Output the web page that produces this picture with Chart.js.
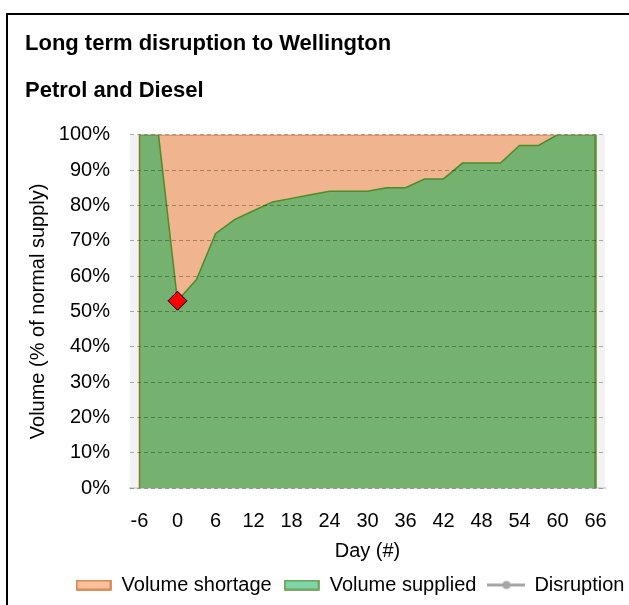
<!DOCTYPE html>
<html>
<head>
<meta charset="utf-8">
<script src="https://cdn.jsdelivr.net/npm/chart.js@4/dist/chart.umd.min.js"></script>
<style>
  html, body { margin: 0; padding: 0; background: #fff; overflow: hidden; }
  #wrap { position: relative; width: 629px; height: 605px; overflow: hidden; }
  #frame { position: absolute; left: 6px; top: 13px; width: 800px; height: 800px; border: 2px solid #000; pointer-events: none; }
  canvas { position: absolute; left: 0; top: 0; }
</style>
</head>
<body>
<div id="wrap">
  <canvas id="chart" width="700" height="605"></canvas>
  <div id="frame"></div>
</div>
<script>
const days = [-6, -3, 0, 3, 6, 9, 12, 15, 18, 21, 24, 27, 30, 33, 36, 39, 42, 45, 48, 51, 54, 57, 60, 63, 66];
const volumeSupplied = [100, 100, 53, 59, 72, 76, 78.5, 81, 82, 83, 84, 84, 84, 85, 85, 87.5, 87.5, 92, 92, 92, 97, 97, 100, 100, 100];
const volumeShortage = [0, 0, 47, 41, 28, 24, 21.5, 19, 18, 17, 16, 16, 16, 15, 15, 12.5, 12.5, 8, 8, 8, 3, 3, 0, 0, 0];
const disruptionDays = [0];
const disruptionValues = [53];
const xTicks = [-6, 0, 6, 12, 18, 24, 30, 36, 42, 48, 54, 60, 66];
const yTicks = [0, 10, 20, 30, 40, 50, 60, 70, 80, 90, 100];

const FONT = "'Liberation Sans', Arial, sans-serif";

function pts(xs, ys) {
    return xs.map((x, i) => ({ x: x, y: ys[i] }));
}

// legend swatches
function boxSwatch(fill, stroke) {
    const c = document.createElement('canvas');
    c.width = 36; c.height = 11;
    const g = c.getContext('2d');
    g.fillStyle = fill;
    g.fillRect(1, 1, 34, 9);
    g.strokeStyle = stroke;
    g.lineWidth = 1.5;
    g.strokeRect(1, 1, 34, 9);
    return c;
}
function lineSwatch(color) {
    const c = document.createElement('canvas');
    c.width = 38; c.height = 11;
    const g = c.getContext('2d');
    g.strokeStyle = color;
    g.lineWidth = 3;
    g.beginPath(); g.moveTo(0, 5.5); g.lineTo(38, 5.5); g.stroke();
    g.fillStyle = color;
    g.beginPath(); g.arc(19, 5.5, 4, 0, Math.PI * 2); g.fill();
    return c;
}
const swatches = {
    'Volume shortage': boxSwatch('#f8c09b', '#d0702f'),
    'Volume supplied': boxSwatch('#7ed6a6', '#5b8f3a'),
    'Disruption': lineSwatch('#a6a6a6')
};

const plotBg = {
    id: 'plotBg',
    beforeDraw(chart) {
        const a = chart.chartArea, ctx = chart.ctx;
        ctx.save();
        ctx.fillStyle = '#f2f2f2';
        ctx.fillRect(a.left, a.top, a.right - a.left, a.bottom - a.top);
        ctx.restore();
    }
};

// vertical edges of the area series
const areaEdges = {
    id: 'areaEdges',
    beforeDatasetDraw(chart, args) {
        if (args.index !== 2) return;
        const x = chart.scales.x, y = chart.scales.y, ctx = chart.ctx;
        const x0 = x.getPixelForValue(days[0]);
        const x1 = x.getPixelForValue(days[days.length - 1]);
        ctx.save();
        ctx.strokeStyle = '#8a7a2a';
        ctx.lineWidth = 1.5;
        ctx.beginPath(); ctx.moveTo(x0, y.getPixelForValue(0)); ctx.lineTo(x0, y.getPixelForValue(100)); ctx.stroke();
        ctx.strokeStyle = '#5b8f36';
        ctx.lineWidth = 2.5;
        ctx.beginPath(); ctx.moveTo(x1, y.getPixelForValue(0)); ctx.lineTo(x1, y.getPixelForValue(100)); ctx.stroke();
        ctx.restore();
    }
};

new Chart(document.getElementById('chart'), {
    type: 'line',
    data: {
        datasets: [
            {
                label: 'Volume supplied',
                data: pts(days, volumeSupplied),
                backgroundColor: '#75b16f',
                borderColor: '#4f8a2b',
                borderWidth: 1.5,
                fill: 'origin',
                pointRadius: 0,
                tension: 0,
                stack: 'area',
                order: 1
            },
            {
                label: 'Volume shortage',
                data: pts(days, volumeShortage),
                backgroundColor: '#f0b48e',
                borderColor: '#c9773f',
                borderWidth: 1.5,
                fill: '-1',
                pointRadius: 0,
                tension: 0,
                stack: 'area',
                order: 2
            },
            {
                label: 'Disruption',
                data: pts(disruptionDays, disruptionValues),
                showLine: false,
                pointStyle: 'rectRot',
                pointRadius: 9.5,
                pointBackgroundColor: '#ff0000',
                pointBorderColor: '#000000',
                pointBorderWidth: 1,
                stack: 'marker',
                order: 0
            }
        ]
    },
    options: {
        responsive: false,
        animation: false,
        events: [],
        layout: { padding: { left: 25, right: 25, top: 0, bottom: 0 } },
        scales: {
            x: {
                type: 'linear',
                min: -7.5,
                max: 67.5,
                afterBuildTicks: (s) => { s.ticks = xTicks.map(v => ({ value: v })); },
                afterFit: (s) => { s.height = 75; },
                grid: { display: false, drawTicks: false },
                border: { display: true, color: '#d9d9d9', width: 2 },
                ticks: { color: '#000', font: { family: FONT, size: 20 }, padding: 21, maxRotation: 0, autoSkip: false },
                title: { display: true, text: 'Day (#)', color: '#000', font: { family: FONT, size: 20 }, padding: { top: 0, bottom: 0 } }
            },
            y: {
                stacked: true,
                min: 0,
                max: 100,
                afterBuildTicks: (s) => { s.ticks = yTicks.map(v => ({ value: v })); },
                afterFit: (s) => { s.width = 105; },
                grid: { display: true, drawTicks: false, color: 'rgba(0,0,0,0.3)', lineWidth: 1, z: 1 },
                border: { display: false, dash: [4, 3] },
                ticks: { color: '#000', font: { family: FONT, size: 20 }, padding: 20, callback: v => v + '%' },
                title: { display: true, text: 'Volume (% of normal supply)', color: '#000', font: { family: FONT, size: 20 }, padding: { top: 1, bottom: 0 } }
            },
            yPad: {
                position: 'right',
                display: true,
                afterFit: (s) => { s.width = 70; },
                grid: { display: false },
                border: { display: false },
                ticks: { display: false }
            }
        },
        plugins: {
            title: {
                display: true,
                text: 'Long term disruption to Wellington',
                align: 'start',
                color: '#000',
                font: { family: FONT, size: 22, weight: 'bold' },
                padding: { top: 31, bottom: 0 }
            },
            subtitle: {
                display: true,
                text: 'Petrol and Diesel',
                align: 'start',
                color: '#000',
                font: { family: FONT, size: 22, weight: 'bold' },
                padding: { top: 20, bottom: 31 }
            },
            legend: {
                position: 'bottom',
                labels: {
                    color: '#000',
                    font: { family: FONT, size: 20 },
                    usePointStyle: true,
                    pointStyleWidth: 36,
                    boxHeight: 11,
                    padding: 12,
                    generateLabels: (chart) => ['Volume shortage', 'Volume supplied', 'Disruption'].map(name => ({
                        text: name,
                        pointStyle: swatches[name],
                        fillStyle: 'transparent',
                        strokeStyle: 'transparent',
                        lineWidth: 0,
                        fontColor: '#000',
                        hidden: false,
                        datasetIndex: chart.data.datasets.findIndex(d => d.label === name)
                    }))
                }
            },
            tooltip: { enabled: false }
        }
    },
    plugins: [plotBg, areaEdges]
});
</script>
</body>
</html>
